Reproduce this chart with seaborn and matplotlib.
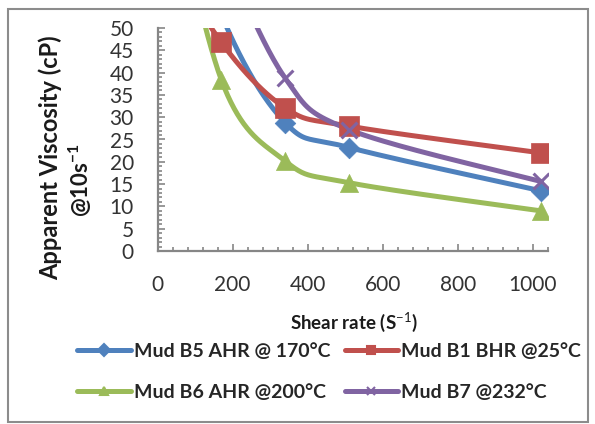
import numpy as np
import pandas as pd
import matplotlib
matplotlib.use("Agg")
import matplotlib.pyplot as plt
import seaborn as sns
from matplotlib.lines import Line2D
from matplotlib.patches import Rectangle
from matplotlib.ticker import MultipleLocator

# shear rates of the viscometer readings (the two lowest sit far above the plotted range)
shear_rate = [5.1, 10.2, 170, 340, 511, 1022]
mud_b5 = [110, 95, 53, 28.8, 23.2, 13.5]
mud_b1 = [80, 70, 46.8, 32.1, 28.0, 22.0]
mud_b6 = [110, 95, 38.4, 20.2, 15.3, 9.0]
mud_b7 = [120, 100, 68, 38.8, 27.2, 15.6]

series_names = ["Mud B5 AHR @ 170°C", "Mud B1 BHR @25°C",
                "Mud B6 AHR @200°C", "Mud B7 @232°C"]
series_values = [mud_b5, mud_b1, mud_b6, mud_b7]
colors = ["#4F81BD", "#C0504D", "#9BBB59", "#8064A2"]
markers = ["D", "s", "^", "x"]
marker_sizes = [110, 200, 170, 130]

sns.set_theme(style="white")
plt.rcParams["font.family"] = ["Lato", "DejaVu Sans"]
plt.rcParams["mathtext.fontset"] = "custom"
plt.rcParams["mathtext.rm"] = "Lato"
plt.rcParams["mathtext.bf"] = "Lato:bold"


def excel_smooth(x, y, steps=40):
    # bezier smoothing like Excel's "smoothed line"
    p = np.column_stack([x, y]).astype(float)
    n = len(p)
    out = [p[0]]
    t = np.linspace(0, 1, steps)[1:, None]
    for i in range(n - 1):
        a = p[i]
        b = p[i + 1]
        prev = p[i - 1] if i > 0 else p[i]
        nxt = p[i + 2] if i + 2 < n else p[i + 1]
        c1 = a + (b - prev) / 6
        c2 = b - (nxt - a) / 6
        seg = (1 - t) ** 3 * a + 3 * (1 - t) ** 2 * t * c1 + 3 * (1 - t) * t ** 2 * c2 + t ** 3 * b
        out.extend(seg)
    return np.array(out)


W, H = 595, 424
fig = plt.figure(figsize=(W / 100, H / 100), dpi=100)
ax = fig.add_axes([157.5 / W, 1 - 251 / H, (547.7 - 157.5) / W, (251 - 28) / H])

for name, vals, col, mk, ms in zip(series_names, series_values, colors, markers, marker_sizes):
    curve = excel_smooth(shear_rate, vals)
    df = pd.DataFrame({"x": curve[:, 0], "y": curve[:, 1]})
    sns.lineplot(data=df, x="x", y="y", sort=False, estimator=None, color=col,
                 lw=3.6, ax=ax, legend=False)
    pts = pd.DataFrame({"x": shear_rate, "y": vals})
    if mk == "x":
        sns.scatterplot(data=pts, x="x", y="y", marker=mk, s=ms, color=col,
                        linewidth=2.2, ax=ax, legend=False, zorder=3)
    else:
        sns.scatterplot(data=pts, x="x", y="y", marker=mk, s=ms, color=col,
                        edgecolor=col, linewidth=0.5, ax=ax, legend=False, zorder=3)

ax.set_xlim(0, 1040)
ax.set_ylim(0, 50)
ax.xaxis.set_major_locator(MultipleLocator(200))
ax.xaxis.set_minor_locator(MultipleLocator(40))
ax.yaxis.set_major_locator(MultipleLocator(5))
ax.yaxis.set_minor_locator(MultipleLocator(1))
for side in ["top", "right"]:
    ax.spines[side].set_visible(False)
for side in ["left", "bottom"]:
    ax.spines[side].set_color("#868686")
    ax.spines[side].set_linewidth(1.6)
ax.tick_params(which="both", direction="in", color="#868686", width=1.2,
               bottom=True, left=True)
ax.tick_params(which="major", length=5)
ax.tick_params(which="minor", length=3)
ax.tick_params(axis="y", which="major", pad=17, labelsize=15, labelcolor="#333333")
ax.tick_params(axis="x", which="major", pad=17, labelsize=15, labelcolor="#333333")
ax.set_xlabel("")
ax.set_ylabel("")

fig.text(354 / W, 1 - 322 / H, "Shear rate (S$^{-1}$)", ha="center", va="center",
         fontsize=13.5, fontweight="bold", color="#1a1a1a")
fig.text(50 / W, 1 - 158 / H, "Apparent Viscosity (cP)", ha="center", va="center",
         rotation=90, fontsize=17, fontweight="bold", color="#1a1a1a")
fig.text(80 / W, 1 - 180 / H, r"@10s$^{\mathbf{-1}}$", ha="center", va="center",
         rotation=90, fontsize=16, fontweight="bold", color="#1a1a1a")

# row-wise order as in the reference: B5, B1 on top, B6, B7 below
order = [0, 2, 1, 3]
handles = [Line2D([], [], color=colors[i], lw=3.6, marker=markers[i], markersize=6,
                  markeredgewidth=1.5, label=series_names[i])
           for i in order]
fig.legend(handles=handles, ncol=2, loc="center", bbox_to_anchor=(329 / W, 1 - 372 / H),
           frameon=False, prop={"size": 14, "weight": "bold"}, handlelength=2.75,
           handletextpad=0.15, columnspacing=0.75, labelspacing=1.25, borderpad=0)

fig.patches.append(Rectangle((8 / W, 2 / H), 580 / W, 413 / H, transform=fig.transFigure,
                             fill=False, edgecolor="#8c8c8c", lw=1.5))

fig.savefig("out.png", dpi=100)
